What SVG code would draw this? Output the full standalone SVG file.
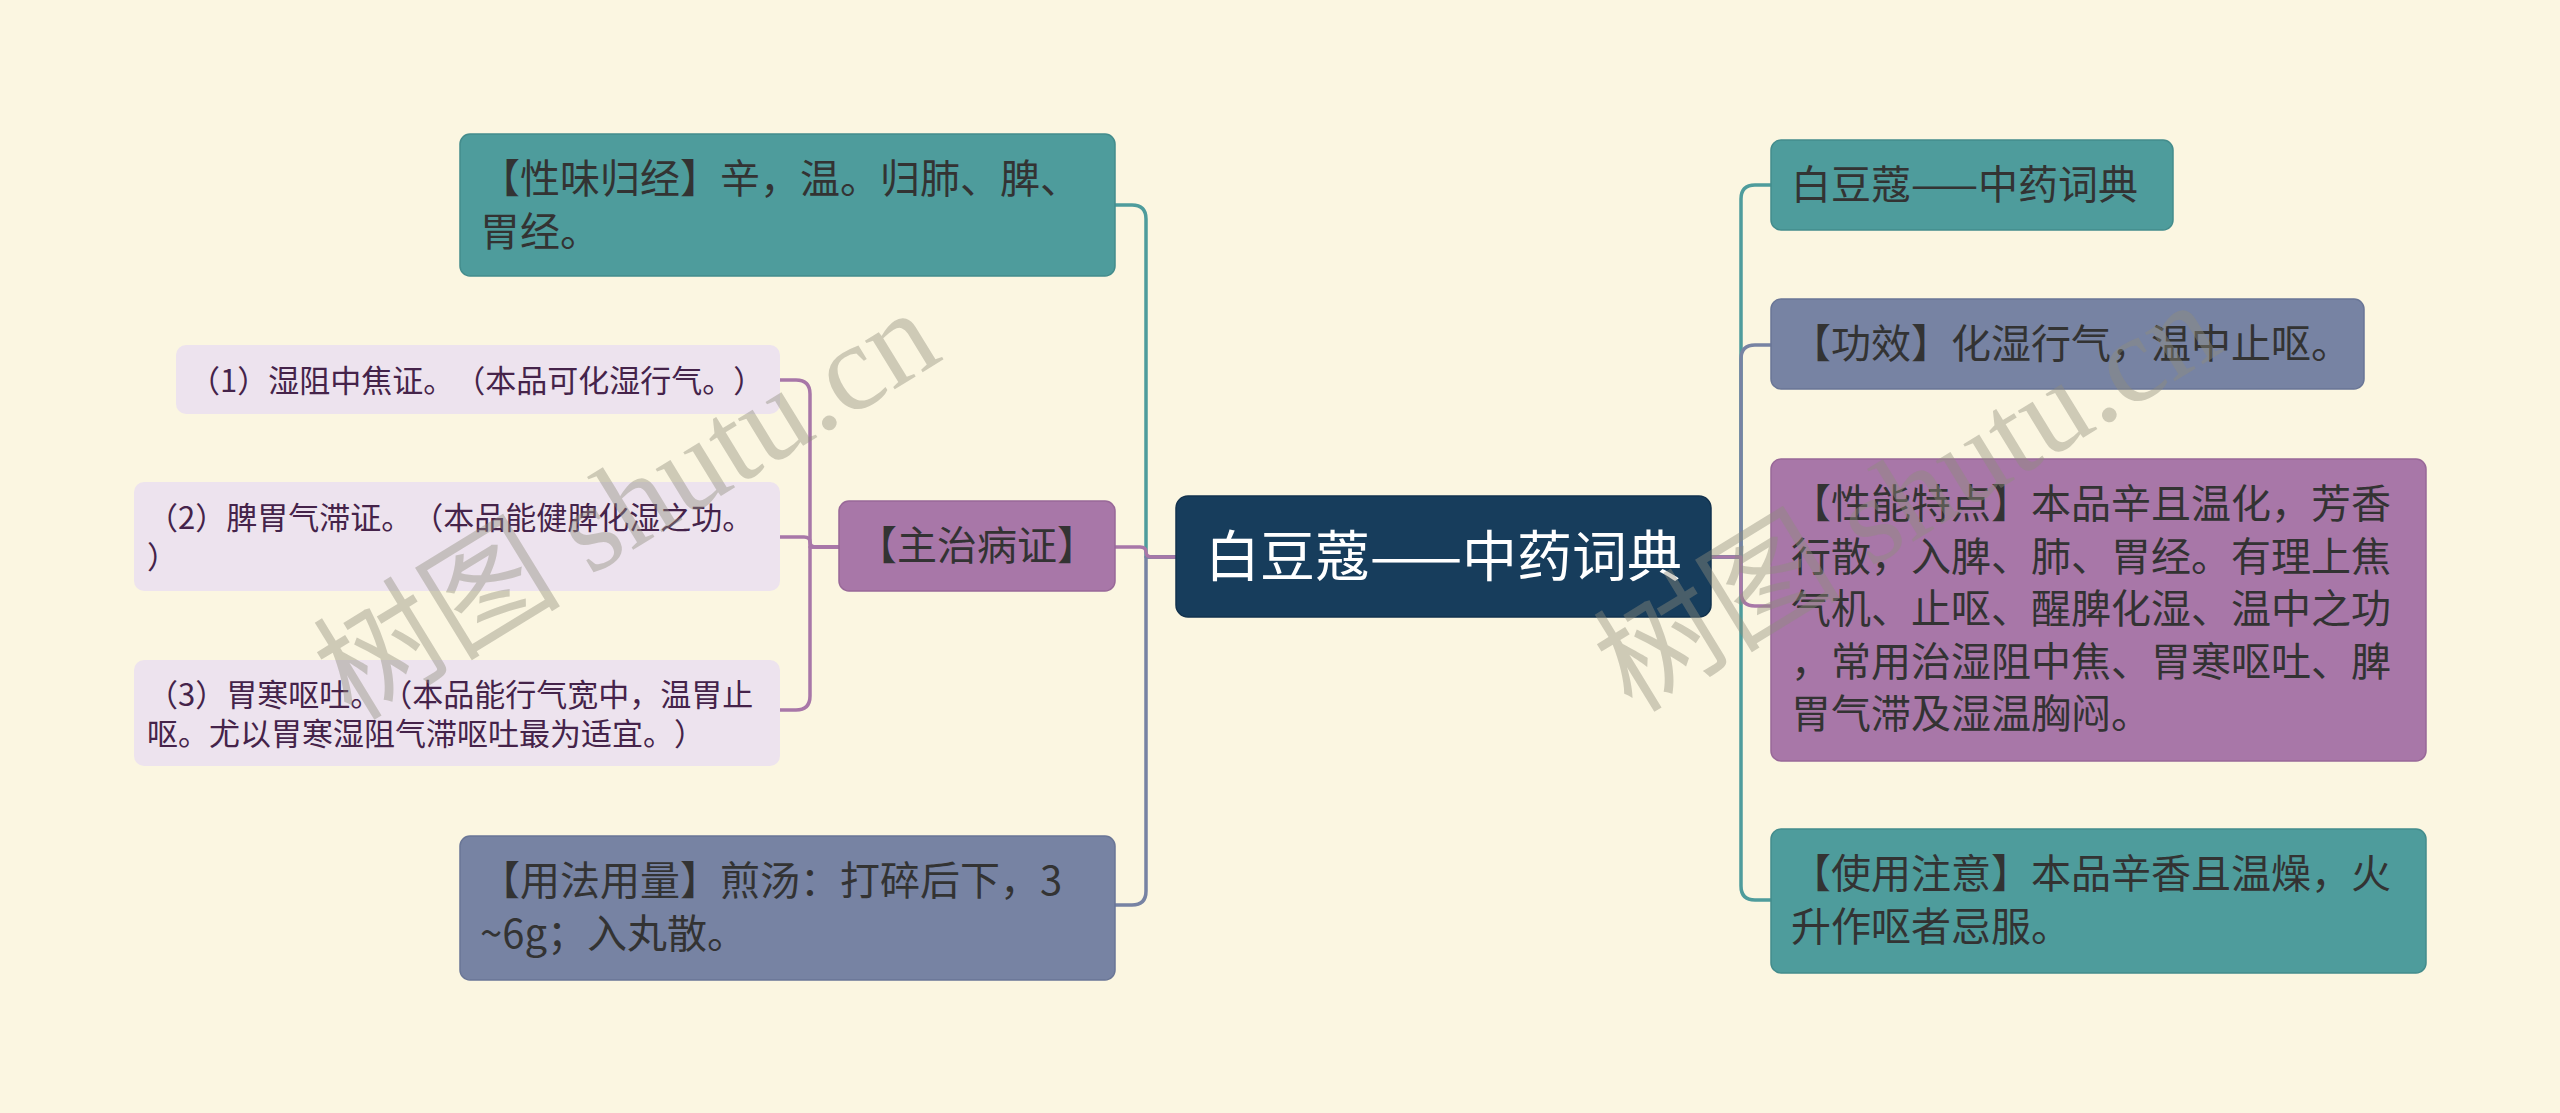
<svg xmlns="http://www.w3.org/2000/svg" width="2560" height="1113" viewBox="0 0 2560 1113">
<style>
.t{font-family:"Noto Sans CJK SC","Noto Sans",sans-serif;text-spacing-trim:space-all;font-kerning:none;}
.l1{font-size:40px;fill:#333333;}
.l2{font-size:31px;fill:#45234a;}
.root{font-size:55px;fill:#ffffff;}
.teal{fill:#4e9c9c;stroke:#438c8c;stroke-width:1.5;}
.slate{fill:#7783a3;stroke:#6a7696;stroke-width:1.5;}
.purple{fill:#a877a8;stroke:#986898;stroke-width:1.5;}
.lav{fill:#ede3ee;}
.navy{fill:#173d5c;stroke:#12324d;stroke-width:1.5;}
.c{fill:none;stroke-width:3.5;stroke-linecap:round;stroke-linejoin:round;}
.ct{stroke:#4e9c9c;}
.cs{stroke:#7783a3;}
.cp{stroke:#a877a8;}
.wm{font-family:"Liberation Serif","Noto Sans CJK SC",serif;font-size:124px;fill:#8f8d7c;fill-opacity:0.42;}
</style>
<rect x="0" y="0" width="2560" height="1113" fill="#fbf6e1"/>

<g id="connectors">
  <path class="c ct" d="M1176,557 H1146 V219 Q1146,205 1132,205 H1115"/>
  <path class="c cs" d="M1176,557 H1146 V891 Q1146,905 1132,905 H1115"/>
  <path class="c cp" d="M1176,557 H1152 Q1146,557 1146,552 Q1146,547 1140,547 H1115"/>
  <path class="c cp" d="M839,547 H810 V394 Q810,380 796,380 H780"/>
  <path class="c cp" d="M839,547 H816 Q810,547 810,542 Q810,537 804,537 H780"/>
  <path class="c cp" d="M839,547 H810 V696 Q810,710 796,710 H780"/>
  <path class="c ct" d="M1711,557 H1741 V199 Q1741,185 1755,185 H1771"/>
  <path class="c cs" d="M1711,557 H1741 V359 Q1741,345 1755,345 H1771"/>
  <path class="c ct" d="M1711,557 H1741 V886 Q1741,900 1755,900 H1771"/>
  <path class="c cp" d="M1711,557 H1741 V592 Q1741,606 1755,606 H1771"/>
</g>

<g id="root">
  <rect class="navy" x="1176" y="496" width="535" height="121" rx="12"/>
  <text class="t root" x="1443.5" y="576" text-anchor="middle">白豆蔻——中药词典</text>
</g>

<g id="n-xingwei">
  <rect class="teal" x="460" y="134" width="655" height="142" rx="10"/>
  <text class="t l1" x="480" y="193"><tspan x="480">【性味归经】辛，温。归肺、脾、</tspan><tspan x="480" y="246">胃经。</tspan></text>
</g>

<g id="n-zhuzhi">
  <rect class="purple" x="839" y="501" width="276" height="90" rx="10"/>
  <text class="t l1" x="977" y="560" text-anchor="middle">【主治病证】</text>
</g>

<g id="n-zz1">
  <rect class="lav" x="176" y="345" width="604" height="69" rx="10"/>
  <text class="t l2" x="189" y="392">（1）湿阻中焦证。（本品可化湿行气。）</text>
</g>
<g id="n-zz2">
  <rect class="lav" x="134" y="482" width="646" height="109" rx="10"/>
  <text class="t l2" x="147" y="529"><tspan x="147">（2）脾胃气滞证。（本品能健脾化湿之功。</tspan><tspan x="147" y="568">）</tspan></text>
</g>
<g id="n-zz3">
  <rect class="lav" x="134" y="660" width="646" height="106" rx="10"/>
  <text class="t l2" x="147" y="706"><tspan x="147">（3）胃寒呕吐。（本品能行气宽中，温胃止</tspan><tspan x="147" y="745">呕。尤以胃寒湿阻气滞呕吐最为适宜。）</tspan></text>
</g>

<g id="n-yongfa">
  <rect class="slate" x="460" y="836" width="655" height="144" rx="10"/>
  <text class="t l1" x="480" y="895"><tspan x="480">【用法用量】煎汤：打碎后下，3</tspan><tspan x="480" y="948">~6g；入丸散。</tspan></text>
</g>

<g id="n-title">
  <rect class="teal" x="1771" y="140" width="402" height="90" rx="10"/>
  <text class="t l1" x="1791" y="199">白豆蔻——中药词典</text>
</g>

<g id="n-gongxiao">
  <rect class="slate" x="1771" y="299" width="593" height="90" rx="10"/>
  <text class="t l1" x="1791" y="358">【功效】化湿行气，温中止呕。</text>
</g>

<g id="n-xingneng">
  <rect class="purple" x="1771" y="459" width="655" height="302" rx="10"/>
  <text class="t l1" x="1791" y="518"><tspan x="1791">【性能特点】本品辛且温化，芳香</tspan><tspan x="1791" y="570.5">行散，入脾、肺、胃经。有理上焦</tspan><tspan x="1791" y="623">气机、止呕、醒脾化湿、温中之功</tspan><tspan x="1791" y="675.5">，常用治湿阻中焦、胃寒呕吐、脾</tspan><tspan x="1791" y="728">胃气滞及湿温胸闷。</tspan></text>
</g>

<g id="n-zhuyi">
  <rect class="teal" x="1771" y="829" width="655" height="144" rx="10"/>
  <text class="t l1" x="1791" y="888"><tspan x="1791">【使用注意】本品辛香且温燥，火</tspan><tspan x="1791" y="940.5">升作呕者忌服。</tspan></text>
</g>

<g id="watermarks">
  <text class="wm" transform="translate(352,722) rotate(-31.5)">树图 shutu.cn</text>
  <text class="wm" transform="translate(1632,714) rotate(-31.5)">树图 shutu.cn</text>
</g>
</svg>
